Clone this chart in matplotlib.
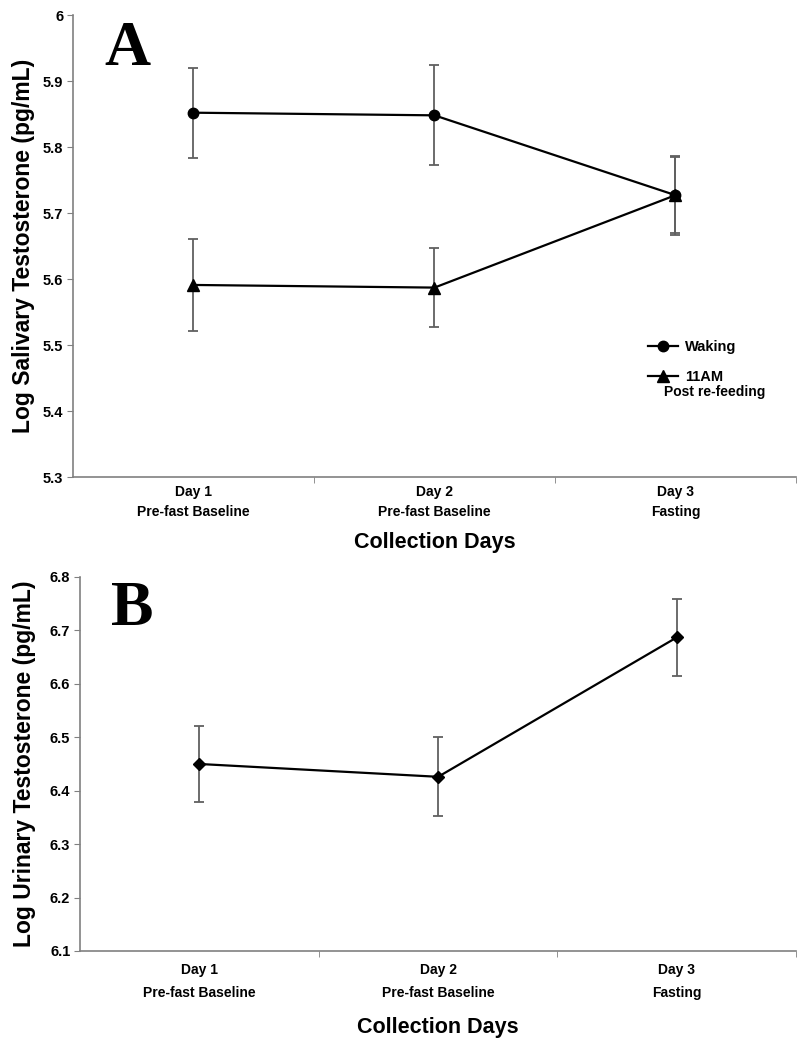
import numpy as np
import matplotlib.pyplot as plt
from matplotlib.lines import Line2D

days = ['Day 1\nPre-fast Baseline', 'Day 2\nPre-fast Baseline', 'Day 3\nFasting']
waking = [5.852, 5.848, 5.727]
waking_err = [0.068, 0.076, 0.060]
am11 = [5.591, 5.587, 5.727]
am11_err = [0.070, 0.060, 0.058]
urine = [6.450, 6.426, 6.687]
urine_err = [0.072, 0.074, 0.072]

fam = ['Liberation Sans', 'DejaVu Sans']
tick_font = dict(family=fam, weight='bold', size=10)

fig = plt.figure(figsize=(8.02, 10.5), dpi=100)
ax1 = fig.add_axes([0.091, 0.5457, 0.9015, 0.440])
ax2 = fig.add_axes([0.0998, 0.0943, 0.893, 0.3562])

x = np.arange(1, 4)

def style(ax, ylo, yhi, ylabel, ylab_x, xlab_y, xpad, lsp):
    ax.set_xlim(0.5, 3.5)
    ax.set_ylim(ylo, yhi)
    yt = np.round(np.arange(ylo, yhi + 0.001, 0.1), 1)
    ax.set_yticks(yt)
    ax.set_yticklabels(['%g' % v for v in yt], family=fam, weight='bold', size=10.5)
    ax.set_xticks(x)
    ax.set_xticklabels(days, **tick_font, linespacing=lsp)
    ax.set_xticks([1.5, 2.5, 3.5], minor=True)
    ax.tick_params(axis='x', which='major', length=0, pad=xpad)
    ax.tick_params(axis='x', which='minor', length=4, color='#808080')
    ax.tick_params(axis='y', length=4, color='#808080', pad=3)
    for s in ['top', 'right']:
        ax.spines[s].set_visible(False)
    for s in ['left', 'bottom']:
        ax.spines[s].set_color('#808080')
        ax.spines[s].set_linewidth(1.2)
    ax.set_ylabel(ylabel, fontsize=16.5, family=fam, weight='bold')
    ax.yaxis.set_label_coords(ylab_x, 0.5)
    ax.set_xlabel('Collection Days', fontsize=15.5, family=fam, weight='bold')
    ax.xaxis.set_label_coords(0.5, xlab_y)

ekw = dict(ecolor='#606060', elinewidth=1.3, capsize=3.5, capthick=1.3)

ax1.errorbar(x, waking, yerr=waking_err, color='black', lw=1.6, marker='o', ms=7.5, **ekw)
ax1.errorbar(x, am11, yerr=am11_err, color='black', lw=1.6, marker='^', ms=8, **ekw)
style(ax1, 5.3, 6.0, 'Log Salivary Testosterone (pg/mL)', -0.052, -0.118, 6, 1.55)
ax1.text(0.0747, 0.924, 'A', transform=ax1.transAxes, ha='center', va='center',
         fontsize=46, fontweight='bold', family=['Liberation Serif', 'DejaVu Serif'])

handles = [Line2D([], [], color='black', marker='o', ms=7.5, lw=1.6),
           Line2D([], [], color='black', marker='^', ms=8, lw=1.6)]
ax1.legend(handles, ['Waking', '11AM'], loc='upper left',
           bbox_to_anchor=(0.795, 0.2965), frameon=False, handlelength=2.1,
           handletextpad=0.45, labelspacing=1.1, borderpad=0, borderaxespad=0,
           prop=dict(family=fam, weight='bold', size=10.5))
ax1.text(0.817, 0.184, 'Post re-feeding', transform=ax1.transAxes, ha='left', va='center',
         family=fam, weight='bold', fontsize=10)

ax2.errorbar(x, urine, yerr=urine_err, color='black', lw=1.6, marker='D', ms=6.5, **ekw)
style(ax2, 6.1, 6.8, 'Log Urinary Testosterone (pg/mL)', -0.062, -0.176, 9, 1.75)
ax2.text(0.0726, 0.912, 'B', transform=ax2.transAxes, ha='center', va='center',
         fontsize=46, fontweight='bold', family=['Liberation Serif', 'DejaVu Serif'])

fig.savefig('out.png', dpi=100)
